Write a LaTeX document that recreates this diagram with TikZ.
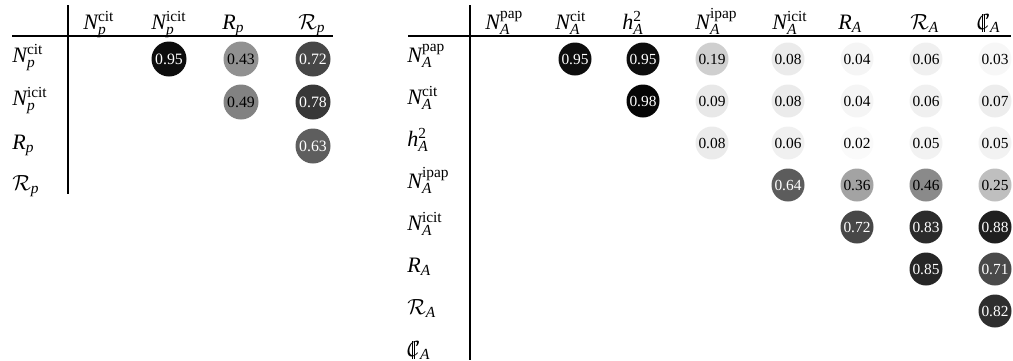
\documentclass[tikz,border=0pt]{standalone}
\usepackage{fontspec}
\setmainfont{Liberation Serif}
\newcommand{\Cstr}{\mbox{\ooalign{$\mathcal{C}$\cr\kern0.2em\rule[-0.12em]{0.045em}{0.82em}\kern0.07em\rule[-0.12em]{0.045em}{0.82em}\hfil\cr}}}
\begin{document}
\begin{tikzpicture}[x=0.5pt,y=-0.5pt,
  lab/.style={anchor=base west, inner sep=0pt, font=\fontsize{11}{13}\selectfont},
  rule/.style={line width=1pt},
  cellL/.style={circle, inner sep=0pt, minimum size=17.5pt, font=\fontsize{7.9}{9}\selectfont},
  cellR/.style={circle, inner sep=0pt, minimum size=16.5pt, font=\fontsize{7.7}{9}\selectfont}]
\useasboundingbox (0,0) rectangle (1013,360);
% ---------- left table ----------
\draw[rule] (12,36) -- (333,36);
\draw[rule] (68,5) -- (68,194);
\node[lab] (lh1) at (83,29) {$\mathit{N}^{\mathrm{cit}}_{\mathit{p}}$};
\node[lab] (lh2) at (151,29) {$\mathit{N}^{\mathrm{icit}}_{\mathit{p}}$};
\node[lab] (lh3) at (222,29) {$\mathit{R}_{\mathit{p}}$};
\node[lab] (lh4) at (298,29) {$\mathcal{R}_{\mathit{p}}$};
\node[lab] (lr1) at (12,62) {$\mathit{N}^{\mathrm{cit}}_{\mathit{p}}$};
\node[lab] (lr2) at (12,105) {$\mathit{N}^{\mathrm{icit}}_{\mathit{p}}$};
\node[lab] (lr3) at (12,149) {$\mathit{R}_{\mathit{p}}$};
\node[lab] (lr4) at (12,190) {$\mathcal{R}_{\mathit{p}}$};
\foreach \y/\x/\v/\n in {59/169/95/L12, 59/241/43/L13, 59/313/72/L14,
                         102/241/49/L23, 102/313/78/L24,
                         146/313/63/L34}{
  \ifnum\v>55 \def\tc{white}\else\def\tc{black}\fi
  \node[cellL, fill=black!\v, text=\tc] (\n) at (\x,\y) {0.\v};
}
% ---------- right table ----------
\draw[rule] (408,36) -- (1011,36);
\draw[rule] (470,5) -- (470,360);
\node[lab] (rh1) at (485,29) {$\mathit{N}^{\mathrm{pap}}_{\mathit{A}}$};
\node[lab] (rh2) at (555,29) {$\mathit{N}^{\mathrm{cit}}_{\mathit{A}}$};
\node[lab] (rh3) at (622,29) {$\mathit{h}^{\mathrm{2}}_{\mathit{A}}$};
\node[lab] (rh4) at (695,29) {$\mathit{N}^{\mathrm{ipap}}_{\mathit{A}}$};
\node[lab] (rh5) at (772,29) {$\mathit{N}^{\mathrm{icit}}_{\mathit{A}}$};
\node[lab] (rh6) at (838,29) {$\mathit{R}_{\mathit{A}}$};
\node[lab] (rh7) at (910,29) {$\mathcal{R}_{\mathit{A}}$};
\node[lab] (rh8) at (977,29) {$\Cstr_{\mathit{A}}$};
\node[lab] (rr1) at (407,62) {$\mathit{N}^{\mathrm{pap}}_{\mathit{A}}$};
\node[lab] (rr2) at (407,104) {$\mathit{N}^{\mathrm{cit}}_{\mathit{A}}$};
\node[lab] (rr3) at (407,146) {$\mathit{h}^{\mathrm{2}}_{\mathit{A}}$};
\node[lab] (rr4) at (407,188) {$\mathit{N}^{\mathrm{ipap}}_{\mathit{A}}$};
\node[lab] (rr5) at (407,230) {$\mathit{N}^{\mathrm{icit}}_{\mathit{A}}$};
\node[lab] (rr6) at (407,272) {$\mathit{R}_{\mathit{A}}$};
\node[lab] (rr7) at (407,314) {$\mathcal{R}_{\mathit{A}}$};
\node[lab] (rr8) at (407,356) {$\Cstr_{\mathit{A}}$};
\foreach \y/\x/\v/\n in {
  59/575/95/R12, 59/643/95/R13, 59/712/19/R14, 59/788/08/R15, 59/857/04/R16, 59/926/06/R17, 59/995/03/R18,
  101/643/98/R23, 101/712/09/R24, 101/788/08/R25, 101/857/04/R26, 101/926/06/R27, 101/995/07/R28,
  143/712/08/R34, 143/788/06/R35, 143/857/02/R36, 143/926/05/R37, 143/995/05/R38,
  185/788/64/R45, 185/857/36/R46, 185/926/46/R47, 185/995/25/R48,
  227/857/72/R56, 227/926/83/R57, 227/995/88/R58,
  269/926/85/R67, 269/995/71/R68,
  311/995/82/R78}{
  \ifnum\v>55 \def\tc{white}\else\def\tc{black}\fi
  \node[cellR, fill=black!\v, text=\tc] (\n) at (\x,\y) {0.\v};
}
\end{tikzpicture}
\end{document}
